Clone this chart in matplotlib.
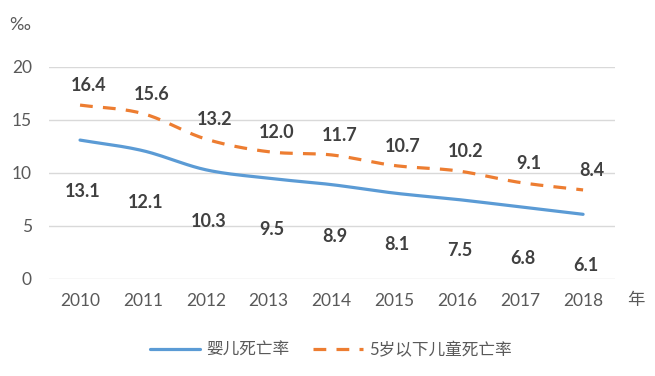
import numpy as np
import matplotlib
matplotlib.use("Agg")
import matplotlib.pyplot as plt

plt.rcParams['font.family'] = ['Lato', 'Noto Sans CJK SC', 'DejaVu Sans']

years = [2010, 2011, 2012, 2013, 2014, 2015, 2016, 2017, 2018]
infant = [13.1, 12.1, 10.3, 9.5, 8.9, 8.1, 7.5, 6.8, 6.1]
under5 = [16.4, 15.6, 13.2, 12.0, 11.7, 10.7, 10.2, 9.1, 8.4]
series_names = ["婴儿死亡率", "5岁以下儿童死亡率"]
y_ticks = [0, 5, 10, 15, 20]

BLUE = "#5B9BD5"
ORANGE = "#ED7D31"
TXT = "#595959"
LBL = "#404040"


def smooth(x, y, n=20):
    # Catmull-Rom curve through the points, like Excel's smoothed line
    x = np.asarray(x, float)
    y = np.asarray(y, float)
    px = np.concatenate([[2 * x[0] - x[1]], x, [2 * x[-1] - x[-2]]])
    py = np.concatenate([[2 * y[0] - y[1]], y, [2 * y[-1] - y[-2]]])
    xs, ys = [], []
    t = np.linspace(0, 1, n, endpoint=False)
    for i in range(1, len(px) - 2):
        for p, out in ((px, xs), (py, ys)):
            p0, p1, p2, p3 = p[i - 1], p[i], p[i + 1], p[i + 2]
            out.extend(0.5 * ((2 * p1) + (-p0 + p2) * t
                              + (2 * p0 - 5 * p1 + 4 * p2 - p3) * t ** 2
                              + (-p0 + 3 * p1 - 3 * p2 + p3) * t ** 3))
    xs.append(x[-1])
    ys.append(y[-1])
    return np.array(xs), np.array(ys)


fig = plt.figure(figsize=(6.55, 3.76), dpi=100)
ax = fig.add_axes([0.0742, 0.258, 0.864, 0.564])

idx = np.arange(len(years))
bx, by = smooth(idx, infant)
ox, oy = smooth(idx, under5)
ax.plot(bx, by, color=BLUE, lw=2.3, solid_capstyle='round', label=series_names[0])
ax.plot(ox, oy, color=ORANGE, lw=2.3, dashes=(4, 3.2), dash_capstyle='butt',
        label=series_names[1])

for i, v in enumerate(infant):
    ax.annotate(f"{v:.1f}", (i, v), xytext=(2, -37), textcoords='offset points',
                ha='center', va='center', fontsize=13, fontweight='bold', color=LBL)
for i, v in enumerate(under5):
    ax.annotate(f"{v:.1f}", (i, v), xytext=(6, 14), textcoords='offset points',
                ha='center', va='center', fontsize=13, fontweight='bold', color=LBL)

ax.set_xlim(-0.5, len(years) - 0.5)
ax.set_ylim(0, 20)
ax.set_xticks(idx)
ax.set_xticklabels([str(y) for y in years])
ax.set_yticks(y_ticks)
ax.tick_params(length=0, colors=TXT, labelsize=12.5)
ax.tick_params(axis='x', pad=10)
ax.tick_params(axis='y', pad=12)
ax.grid(axis='y', color='#D9D9D9', lw=1)
ax.set_axisbelow(True)
for s in ax.spines.values():
    s.set_visible(False)

fig.text(20 / 655, 1 - 25 / 376, "‰", color=TXT, fontsize=13, ha='center', va='center')
fig.text(636 / 655, 1 - 300 / 376, "年", color=TXT, fontsize=12.5, ha='center', va='center',
         family=['Noto Sans CJK SC'])

fig.legend(loc='center', bbox_to_anchor=(331 / 655, 1 - 350 / 376), ncol=2, frameon=False,
           fontsize=12, labelcolor=TXT, handlelength=3.0, columnspacing=1.4,
           handletextpad=0.4)

fig.savefig("out.png", dpi=100)
